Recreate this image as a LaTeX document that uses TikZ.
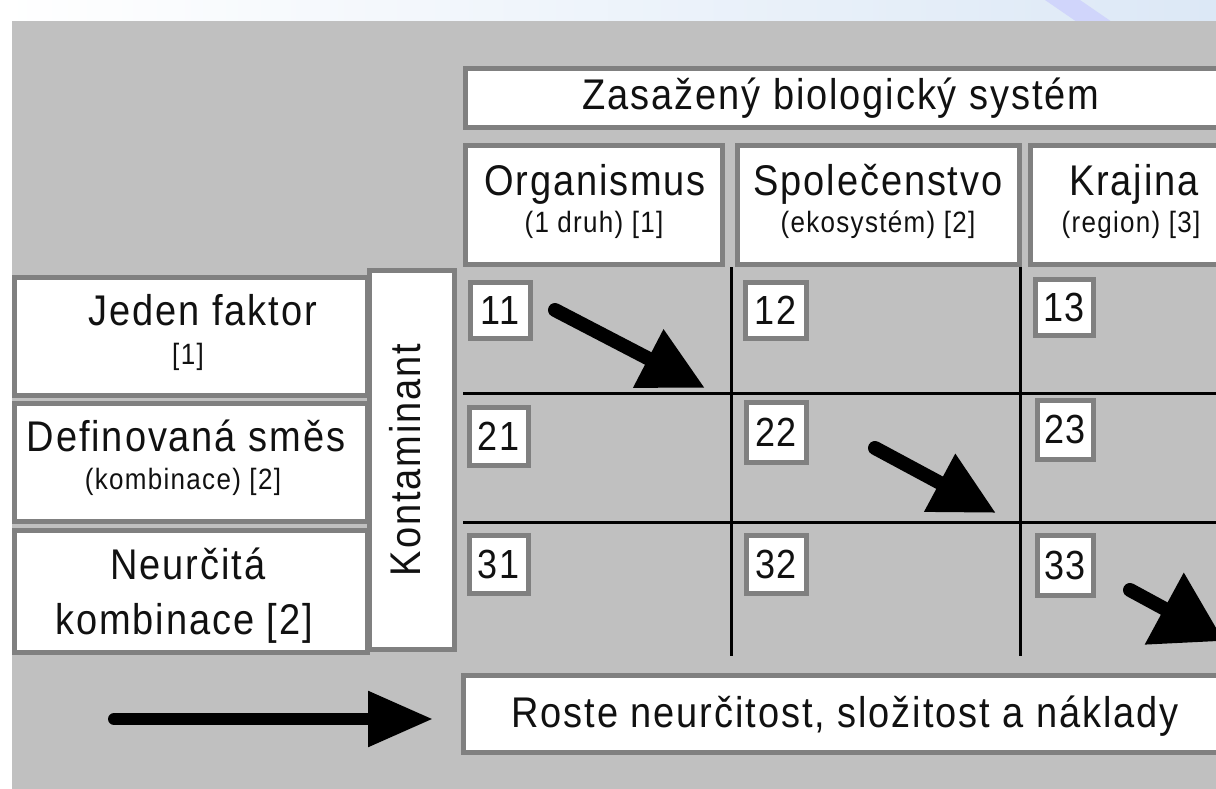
\documentclass[tikz,border=0pt]{standalone}
\usepackage{graphicx}
\usepackage{fontspec}
\setmainfont{Liberation Sans}[LetterSpace=5]
\usetikzlibrary{arrows.meta}
\definecolor{panel}{HTML}{C0C0C0}
\definecolor{frame}{HTML}{808080}
\definecolor{ink}{HTML}{111111}
\definecolor{sky}{HTML}{DCE8F6}
% narrow, tall lettering
\newcommand{\tall}[1]{\scalebox{1}[1.13]{#1}}

\begin{document}
\begin{tikzpicture}[x=1pt,y=-1pt,
  box/.style={draw=frame, line width=5pt, fill=white},
  big/.style={font=\fontsize{38}{40}\selectfont, text=ink, inner sep=0pt},
  small/.style={font=\fontsize{26}{28}\selectfont, text=ink, inner sep=0pt},
  numbox/.style={draw=frame, line width=5pt, fill=white, inner sep=0pt,
    font=\fontsize{36}{38}\selectfont, text=ink},
  gridline/.style={line width=3pt, black},
  bold arrow/.style={line width=14pt, line cap=round,
    -{Triangle[length=64pt,width=62pt]}}
]
\useasboundingbox (0,0) rectangle (1216,789);
\clip (0,0) rectangle (1216,789);

% page background with the light strip on top
\fill[white] (0,0) rectangle (1216,789);
\shade[left color=white, right color=sky] (0,0) rectangle (1216,22);
\fill[sky!80!blue!60] (1045,0) -- (1080,0) -- (1112,22) -- (1077,22) -- cycle;
\fill[panel] (12,21) rectangle (1216,789);

% heading over the columns
\draw[box] (465.5,68.5) rectangle (1230,127.5);
\node[big, anchor=base] (title) at (841,110) {\tall{Zasažený biologický systém}};

% column headers
\draw[box] (465.5,145.5) rectangle (722.5,264.5);
\draw[box] (737.5,145.5) rectangle (1019.5,264.5);
\draw[box] (1030.5,145.5) rectangle (1230,264.5);
\node[big, anchor=base] (c1) at (595,196) {\tall{Organismus}};
\node[small, anchor=base] (c1s) at (594,232) {\tall{(1 druh) [1]}};
\node[big, anchor=base] (c2) at (878,196) {\tall{Společenstvo}};
\node[small, anchor=base] (c2s) at (878,232) {\tall{(ekosystém) [2]}};
\node[big, anchor=base] (c3) at (1134,196) {\tall{Krajina}};
\node[small, anchor=base] (c3s) at (1131,232) {\tall{(region) [3]}};

% row headers
\draw[box] (14.5,277.5) rectangle (367.5,395.5);
\draw[box] (14.5,403) rectangle (367.5,521);
\draw[box] (14.5,530.5) rectangle (367.5,652.5);
\node[big, anchor=base] (r1) at (203,325) {\tall{Jeden faktor}};
\node[small, anchor=base] (r1s) at (188,364) {\tall{[1]}};
\node[big, anchor=base] (r2) at (186,451) {\tall{Definovaná směs}};
\node[small, anchor=base] (r2s) at (183,489) {\tall{(kombinace) [2]}};
\node[big, anchor=base] (r3) at (188,579) {\tall{Neurčitá}};
\node[big, anchor=base] (r3b) at (184,634) {\tall{kombinace [2]}};

% side label
\draw[box] (369.5,270.5) rectangle (454.5,649.5);
\node[big, rotate=90] (kont) at (405,460) {\tall{Kontaminant}};

% matrix grid
\draw[gridline] (731,267) -- (731,656);
\draw[gridline] (1020,267) -- (1020,656);
\draw[gridline] (463,393) -- (1216,393);
\draw[gridline] (463,522) -- (1216,522);

% cell numbers
\node[numbox, minimum width=60pt, minimum height=56pt] (n11) at (500,310.5) {\tall{11}};
\node[numbox, minimum width=61pt, minimum height=56pt] (n12) at (775.5,310.5) {\tall{12}};
\node[numbox, minimum width=58pt, minimum height=56pt] (n13) at (1064,307.5) {\tall{13}};
\node[numbox, minimum width=59pt, minimum height=58pt] (n21) at (498.5,436.5) {\tall{21}};
\node[numbox, minimum width=60pt, minimum height=60pt] (n22) at (776,432) {\tall{22}};
\node[numbox, minimum width=56pt, minimum height=59pt] (n23) at (1065,429.5) {\tall{23}};
\node[numbox, minimum width=59pt, minimum height=58pt] (n31) at (498.5,564) {\tall{31}};
\node[numbox, minimum width=60pt, minimum height=58pt] (n32) at (776,564) {\tall{32}};
\node[numbox, minimum width=56pt, minimum height=60pt] (n33) at (1065,565) {\tall{33}};

% diagonal trend arrows
\coordinate (a1s) at (555,310);
\coordinate (a1e) at (705,388);
\coordinate (a2s) at (875,448);
\coordinate (a2e) at (996,513);
\coordinate (a3s) at (1130,590);
\coordinate (a3e) at (1224,641);
\draw[bold arrow] (a1s) -- (a1e);
\draw[bold arrow] (a2s) -- (a2e);
\draw[bold arrow, -{Triangle[length=68pt,width=78pt]}] (a3s) -- (a3e);

% bottom statement
\draw[box] (463,675) rectangle (1230,752);
\node[big, anchor=base] (foot) at (845,727) {\tall{Roste neurčitost, složitost a náklady}};
\coordinate (b1) at (114,719);
\coordinate (b2) at (433,719);
\draw[line width=12pt, line cap=round, -{Triangle[length=65pt,width=53pt]}] (b1) -- (b2);
\end{tikzpicture}
\end{document}
